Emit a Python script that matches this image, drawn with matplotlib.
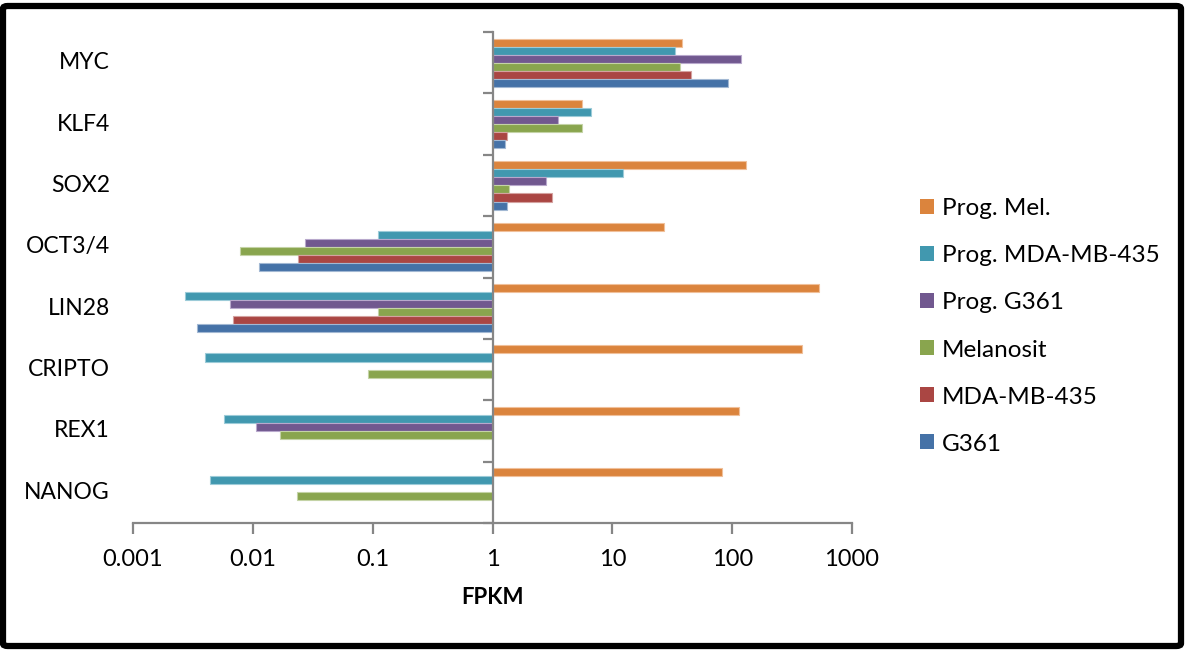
import numpy as np
import matplotlib
matplotlib.use("Agg")
import matplotlib.pyplot as plt
from matplotlib.patches import FancyBboxPatch, Patch
from matplotlib import transforms

plt.rcParams['font.family'] = ['Lato', 'DejaVu Sans']

categories = ["NANOG", "REX1", "CRIPTO", "LIN28", "OCT3/4", "SOX2", "KLF4", "MYC"]
series_names = ["Prog. Mel.", "Prog. MDA-MB-435", "Prog. G361", "Melanosit", "MDA-MB-435", "G361"]
nan = np.nan
prog_mel      = [83, 113, 382, 533, 27, 131, 5.6, 38]
prog_mda      = [0.0044, 0.0057, 0.0040, 0.0027, 0.11, 12.2, 6.7, 33.4]
prog_g361     = [nan, 0.0107, nan, 0.0064, 0.0275, 2.79, 3.5, 119]
melanosit     = [0.0233, 0.0169, 0.092, 0.11, 0.0078, 1.38, 5.6, 37]
mda           = [nan, nan, nan, 0.0068, 0.0239, 3.11, 1.33, 45.7]
g361          = [nan, nan, nan, 0.0034, 0.0112, 1.31, 1.27, 93]
series_values = [prog_mel, prog_mda, prog_g361, melanosit, mda, g361]
colors = ["#DB843D", "#4198AF", "#71588F", "#89A54E", "#AA4643", "#4572A7"]
edges = ["#F0C09A", "#9CCBD8", "#B8A8CC", "#C4D3A6", "#D4A2A0", "#A2B8D3"]
xticks = [0.001, 0.01, 0.1, 1, 10, 100, 1000]
xticklabels = ["0.001", "0.01", "0.1", "1", "10", "100", "1000"]

W, H = 1187, 653
fig = plt.figure(figsize=(W / 100, H / 100), dpi=100)
ax = fig.add_axes([133 / W, 1 - 523 / H, (852 - 133) / W, (523 - 32) / H])

n = len(series_names)
bh = 0.131
y = np.arange(len(categories))
for j, (name, vals, c, ec) in enumerate(zip(series_names, series_values, colors, edges)):
    v = np.array(vals, dtype=float)
    offs = (n - 1) / 2 - j
    ax.barh(y + offs * bh, v - 1, left=1, height=bh, color=c,
            edgecolor=ec, linewidth=0.8, label=name)

ax.set_xscale('log')
ax.set_xlim(0.001, 1000)
ax.set_ylim(-0.5, len(categories) - 0.5)

grey = "#868686"
for s in ['top', 'right']:
    ax.spines[s].set_visible(False)
ax.spines['left'].set_position(('data', 1))
ax.spines['left'].set_color(grey)
ax.spines['left'].set_linewidth(1.6)
ax.spines['bottom'].set_color(grey)
ax.spines['bottom'].set_linewidth(1.6)

ax.set_yticks(np.arange(-0.5, len(categories), 1.0))
ax.set_yticklabels([])
ax.tick_params(axis='y', length=7, width=1.6, color=grey, direction='out')
ax.set_xticks(xticks)
ax.set_xticklabels(xticklabels)
ax.xaxis.set_minor_locator(matplotlib.ticker.NullLocator())
ax.tick_params(axis='x', length=8, width=1.6, color=grey, direction='out',
               labelsize=17, pad=11)

trans = transforms.blended_transform_factory(ax.transAxes, ax.transData)
for i, cat in enumerate(categories):
    ax.text(-23 / 719, i, cat, transform=trans, ha='right', va='center', fontsize=16.5)

ax.set_xlabel("FPKM", fontsize=16, fontweight='bold', labelpad=12)

handles = [Patch(facecolor=c, edgecolor='none') for c in colors]
fig.legend(handles, series_names, loc='center left', bbox_to_anchor=(910 / W, 1 - 326.5 / H),
           frameon=False, fontsize=17.5, handlelength=0.58, handleheight=0.58,
           handletextpad=0.33, labelspacing=1.07, borderaxespad=0)

border = FancyBboxPatch((3 / W, 7 / H), (1181 - 3) / W, (650 - 10) / H,
                        boxstyle="round,pad=0,rounding_size=0.004",
                        transform=fig.transFigure, fill=False, edgecolor='black',
                        linewidth=4.5)
fig.patches.append(border)

fig.savefig("out.png", dpi=100)
